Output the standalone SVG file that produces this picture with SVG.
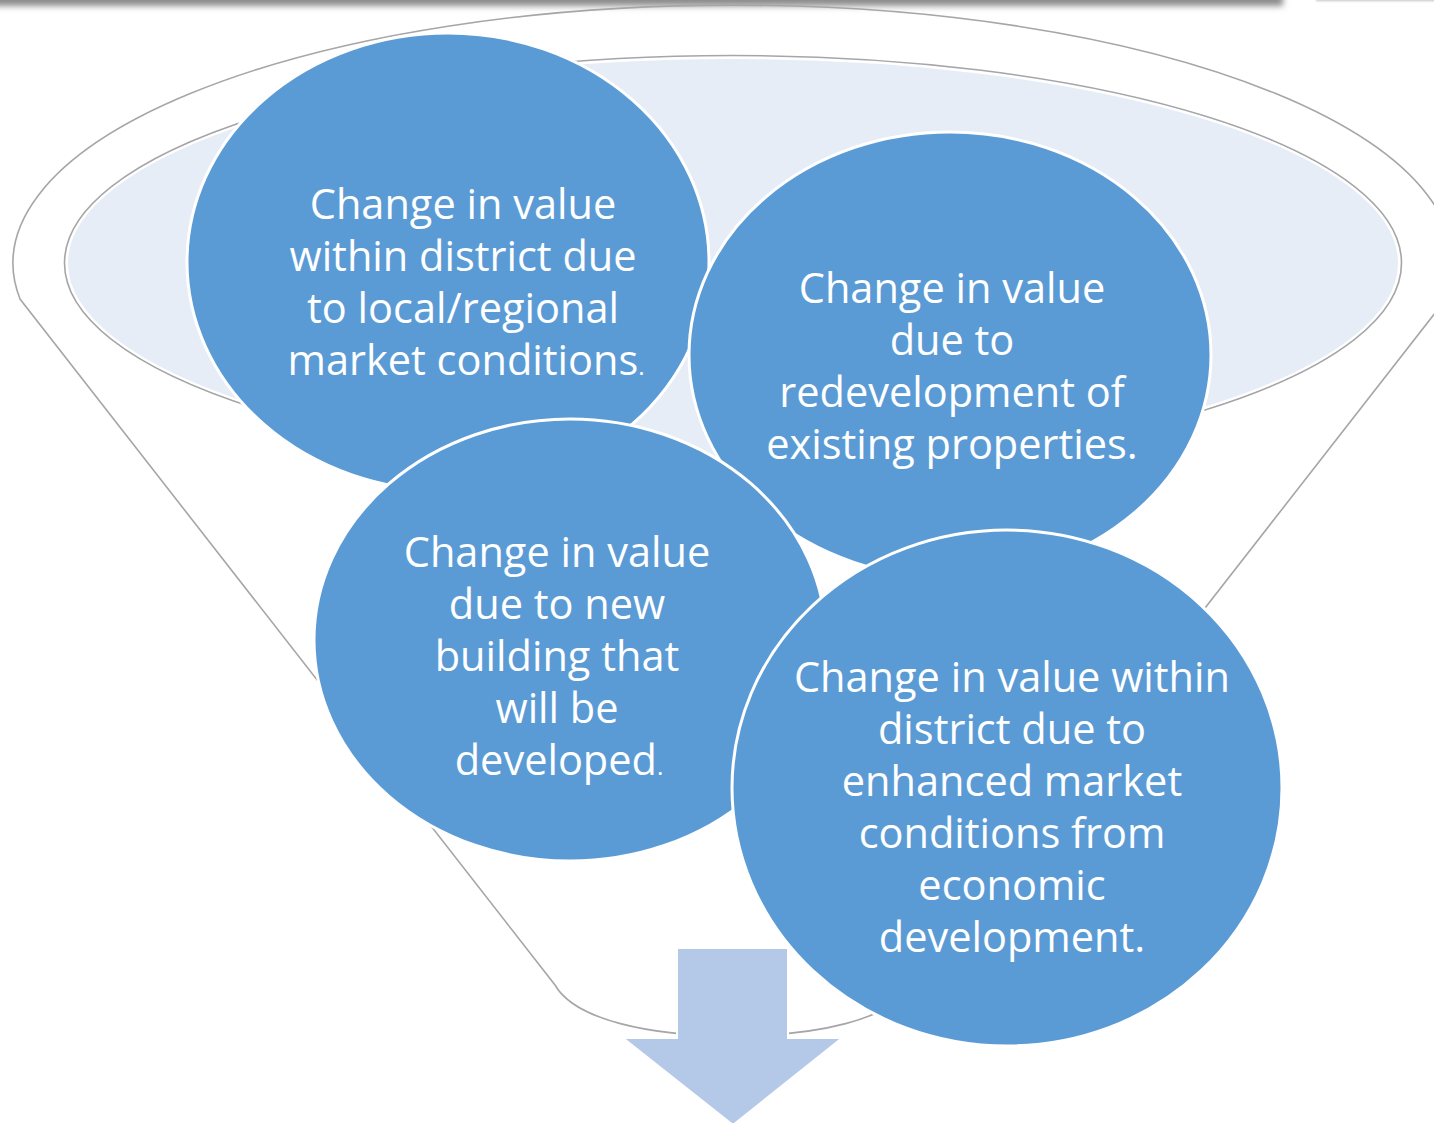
<svg xmlns="http://www.w3.org/2000/svg" width="1434" height="1123" viewBox="0 0 1434 1123">
  <defs>
    <filter id="soft" x="-5%" y="-200%" width="110%" height="500%">
      <feGaussianBlur stdDeviation="3"/>
    </filter>
    <filter id="soft2" x="-5%" y="-200%" width="110%" height="500%">
      <feGaussianBlur stdDeviation="1.2"/>
    </filter>
  </defs>
  <style>
    .outline { fill: none; stroke: #a6a6a6; stroke-width: 1.6; }
    .bubble { fill: #5b9bd5; stroke: #ffffff; stroke-width: 3; }
    .label { fill: #ffffff; font-family: "Open Sans", "Liberation Sans", sans-serif; font-size: 41.5px; text-anchor: middle; font-variant-ligatures: none; }
    .dot { font-size: 24px; }
  </style>
  <rect width="1434" height="1123" fill="#ffffff"/>

  <!-- header shadow strip -->
  <rect x="-20" y="-12" width="1303" height="18" fill="#8c8c8c" filter="url(#soft)"/>
  <rect x="1316" y="-6" width="140" height="7" fill="#c4c4c4" filter="url(#soft2)"/>

  <!-- funnel body -->
  <g id="funnel">
    <path class="outline" d="M20,299 A720,258 0 1 1 1446,299 L911,985 C891,1020 816,1036 733,1036 C650,1036 575,1020 555,985 Z" fill="#ffffff"/>
    <ellipse cx="733" cy="263" rx="668.5" ry="207.5" fill="none" stroke="#a6a6a6" stroke-width="1.6"/>
    <ellipse cx="733" cy="263" rx="666" ry="205" fill="#e6edf7" stroke="#ffffff" stroke-width="2"/>
  </g>

  <!-- output arrow -->
  <g id="arrow">
    <path d="M677,948 H788 V1038 H842 L733,1125 L623,1038 H677 Z" fill="#b4c8e7" stroke="#ffffff" stroke-width="2"/>
  </g>

  <g id="node-local">
    <ellipse class="bubble" cx="448" cy="262" rx="261" ry="229"/>
    <text class="label" x="463" y="219">Change in value</text>
    <text class="label" x="463" y="271">within district due</text>
    <text class="label" x="463" y="323">to local/regional</text>
    <text class="label" x="466" y="375">market conditions<tspan class="dot">.</tspan></text>
  </g>

  <g id="node-redevelopment">
    <ellipse class="bubble" cx="950" cy="355" rx="261" ry="223"/>
    <text class="label" x="952" y="303">Change in value</text>
    <text class="label" x="952" y="355">due to</text>
    <text class="label" x="952" y="407">redevelopment of</text>
    <text class="label" x="952" y="459">existing properties.</text>
  </g>

  <g id="node-new-building">
    <ellipse class="bubble" cx="570" cy="640" rx="256" ry="221"/>
    <text class="label" x="557" y="567">Change in value</text>
    <text class="label" x="557" y="619">due to new</text>
    <text class="label" x="557" y="671">building that</text>
    <text class="label" x="557" y="723">will be</text>
    <text class="label" x="559" y="775">developed<tspan class="dot">.</tspan></text>
  </g>

  <g id="node-economic">
    <ellipse class="bubble" cx="1007" cy="788" rx="275" ry="258"/>
    <text class="label" x="1012" y="692">Change in value within</text>
    <text class="label" x="1012" y="744">district due to</text>
    <text class="label" x="1012" y="796">enhanced market</text>
    <text class="label" x="1012" y="848">conditions from</text>
    <text class="label" x="1012" y="900">economic</text>
    <text class="label" x="1012" y="952">development.</text>
  </g>

  <g id="connectors"></g>
</svg>
